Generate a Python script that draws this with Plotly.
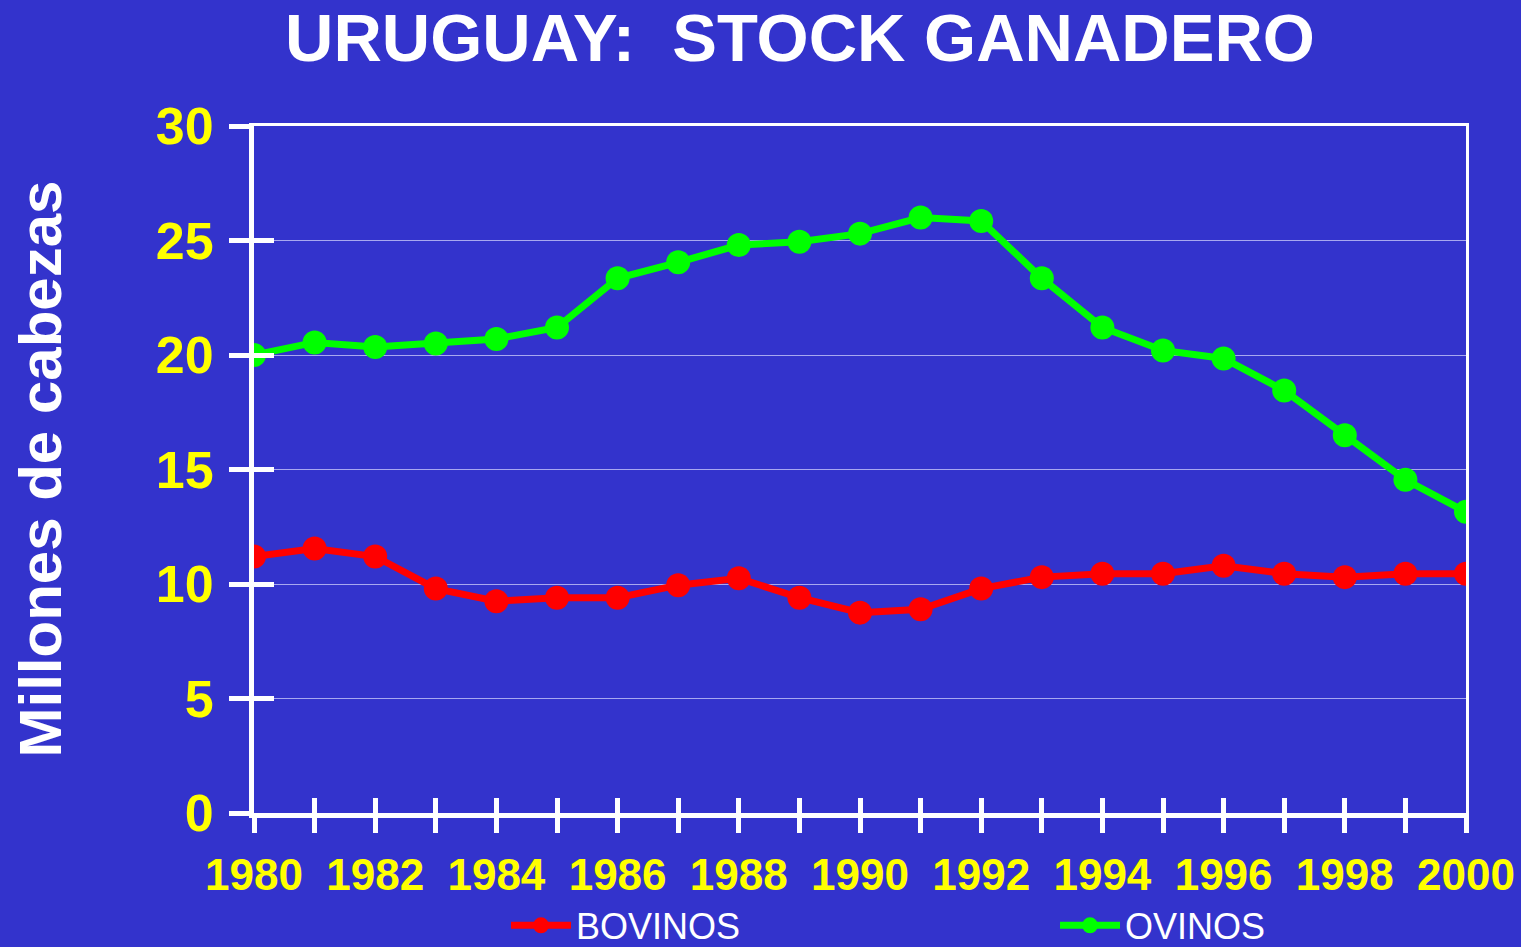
import plotly.graph_objects as go

years = list(range(1980, 2001))
bovinos = [11.2, 11.55, 11.2, 9.8, 9.25, 9.4, 9.4, 9.95, 10.25, 9.4, 8.75, 8.9, 9.8, 10.3, 10.45, 10.45, 10.8, 10.45, 10.3, 10.45, 10.45]
ovinos = [20.0, 20.55, 20.35, 20.5, 20.7, 21.2, 23.35, 24.05, 24.8, 24.95, 25.3, 26.0, 25.85, 23.35, 21.2, 20.2, 19.85, 18.45, 16.5, 14.55, 13.15]
x_tickvals = years
x_ticktext = [str(y) if y % 2 == 0 else "" for y in years]
y_tickvals = [0, 5, 10, 15, 20, 25, 30]

BG = "#3333CC"
FONT = "Arial, Liberation Sans, sans-serif"

fig = go.Figure()
fig.add_trace(go.Scatter(x=years, y=bovinos, name="BOVINOS", mode="lines+markers",
                         line=dict(color="#FF0000", width=7),
                         marker=dict(color="#FF0000", size=24)))
fig.add_trace(go.Scatter(x=years, y=ovinos, name="OVINOS", mode="lines+markers",
                         line=dict(color="#00FF00", width=7),
                         marker=dict(color="#00FF00", size=24)))
# invisible traces to activate overlay axes (inner ticks, top/right frame)
fig.add_trace(go.Scatter(x=[None], y=[None], xaxis="x2", yaxis="y2", showlegend=False, hoverinfo="skip"))
fig.add_trace(go.Scatter(x=[None], y=[None], xaxis="x3", yaxis="y3", showlegend=False, hoverinfo="skip"))

fig.update_layout(
    width=1521, height=947,
    paper_bgcolor=BG, plot_bgcolor=BG,
    margin=dict(l=254, r=55, t=126, b=134, autoexpand=False),
    title=dict(text="URUGUAY:\u00a0 STOCK GANADERO", x=800 / 1521, xanchor="center",
               y=1 - 38 / 947, yanchor="middle", yref="container",
               font=dict(family=FONT, size=67, color="white", weight="bold")),
    showlegend=True,
    legend=dict(orientation="h", x=(506 - 254) / 1212, xanchor="left",
                y=-0.12, yanchor="top", bgcolor="rgba(0,0,0,0)",
                font=dict(family=FONT, size=36, color="white"),
                entrywidth=474, entrywidthmode="pixels", itemwidth=60),
    xaxis=dict(range=[1980, 2000], tickmode="array", tickvals=x_tickvals, ticktext=x_ticktext,
               showline=True, linecolor="white", linewidth=5,
               ticks="outside", ticklen=15, tickwidth=5, tickcolor="white",
               showgrid=False, zeroline=False, ticklabelstandoff=4,
               tickfont=dict(family=FONT, size=44, color="#FFFF00", weight="bold")),
    yaxis=dict(range=[0, 30], tickmode="array", tickvals=y_tickvals,
               showline=True, linecolor="white", linewidth=5,
               ticks="outside", ticklen=20, tickwidth=5, tickcolor="white",
               showgrid=True, gridcolor="#A8A8F0", gridwidth=1, zeroline=False,
               ticklabelstandoff=5,
               tickfont=dict(family=FONT, size=52, color="#FFFF00", weight="bold")),
    xaxis2=dict(range=[1980, 2000], overlaying="x", anchor="y", side="bottom",
                tickmode="array", tickvals=x_tickvals, showticklabels=False,
                ticks="inside", ticklen=15, tickwidth=5, tickcolor="white",
                showline=False, showgrid=False, zeroline=False),
    yaxis2=dict(range=[0, 30], overlaying="y", anchor="x", side="left",
                tickmode="array", tickvals=y_tickvals, showticklabels=False,
                ticks="inside", ticklen=20, tickwidth=5, tickcolor="white",
                showline=False, showgrid=False, zeroline=False),
    xaxis3=dict(range=[1980, 2000], overlaying="x", anchor="y", side="top",
                showline=True, linecolor="white", linewidth=3, showticklabels=False,
                ticks="", showgrid=False, zeroline=False),
    yaxis3=dict(range=[0, 30], overlaying="y", anchor="x", side="right",
                showline=True, linecolor="white", linewidth=3, showticklabels=False,
                ticks="", showgrid=False, zeroline=False),
    annotations=[dict(text="Millones de cabezas", textangle=-90, xref="paper", yref="paper",
                      x=(40 - 254) / 1212, y=0.5, xanchor="center", yanchor="middle",
                      showarrow=False,
                      font=dict(family=FONT, size=60, color="white", weight="bold"))],
)

fig.write_html("out.html", config={"displayModeBar": False},
               post_script="document.body.style.margin='0';document.body.style.overflow='hidden';document.documentElement.style.overflow='hidden';")
